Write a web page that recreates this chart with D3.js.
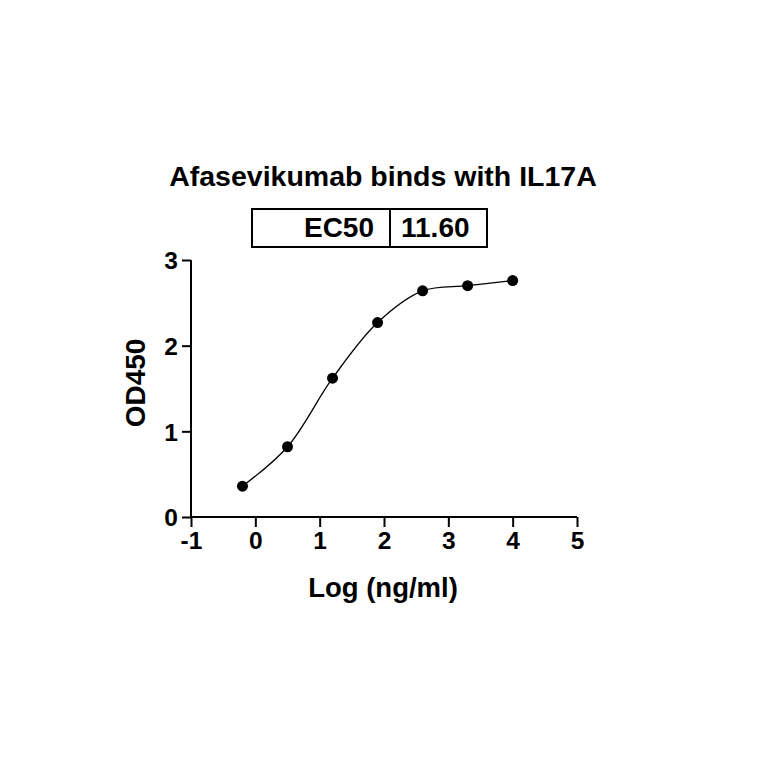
<!DOCTYPE html>
<html>
<head>
<meta charset="utf-8">
<script src="https://cdn.jsdelivr.net/npm/d3@7"></script>
<style>
  body { margin: 0; background: #fff; }
  text { font-family: "Liberation Sans", Arial, sans-serif; font-weight: bold; fill: #000; }
</style>
</head>
<body>
<div id="chart"></div>
<script>
// data
const logConc = [-0.2, 0.5, 1.2, 1.9, 2.6, 3.3, 4.0];
const od450 = [0.36, 0.82, 1.62, 2.27, 2.64, 2.70, 2.76];
const xTicks = [-1, 0, 1, 2, 3, 4, 5];
const yTicks = [0, 1, 2, 3];
const tableLabels = ["EC50", "11.60"];

const width = 764;
const height = 764;
const plotLeft = 191, plotRight = 577, plotTop = 260, plotBottom = 517;

const svg = d3.select("#chart").append("svg")
    .attr("width", width).attr("height", height);

const x = d3.scaleLinear().domain([-1, 5]).range([plotLeft, plotRight]);
const y = d3.scaleLinear().domain([0, 3]).range([plotBottom, plotTop]);

const data = logConc.map((d, i) => ({x: d, y: od450[i]}));

// axes (hyphen minus like the original, not d3's unicode minus)
const xAxis = d3.axisBottom(x).tickValues(xTicks).tickSize(10).tickPadding(5).tickFormat(d => String(d));
const yAxis = d3.axisLeft(y).tickValues(yTicks).tickSize(9).tickPadding(4).tickFormat(d => String(d));

const gx = svg.append("g").attr("transform", `translate(0,${plotBottom})`).call(xAxis);
const gy = svg.append("g").attr("transform", `translate(${plotLeft},0)`).call(yAxis);

[gx, gy].forEach(g => {
    g.select(".domain").attr("stroke-width", 2).attr("stroke", "#000");
    g.selectAll(".tick line").attr("stroke-width", 2).attr("stroke", "#000");
    g.selectAll(".tick text").style("font-size", "24.5px").attr("font-family", null);
});
// plain axis lines, no outer ticks
gx.select(".domain").attr("d", `M${plotLeft},0H${plotRight}`);
gy.select(".domain").attr("d", `M0,${plotTop}V${plotBottom}`);
gy.selectAll(".tick text").attr("dy", "0.36em");

// curve through the points
const line = d3.line().x(d => x(d.x)).y(d => y(d.y)).curve(d3.curveCatmullRom.alpha(0.5));
svg.append("path").datum(data)
    .attr("d", line)
    .attr("fill", "none")
    .attr("stroke", "#000")
    .attr("stroke-width", 1.3);

svg.selectAll("circle.pt").data(data).enter()
    .append("circle")
    .attr("class", "pt")
    .attr("cx", d => x(d.x))
    .attr("cy", d => y(d.y))
    .attr("r", 5.5)
    .attr("fill", "#000");

// title
svg.append("text")
    .attr("x", 383).attr("y", 186)
    .attr("text-anchor", "middle")
    .style("font-size", "28.5px")
    .text("Afasevikumab binds with IL17A");

// EC50 table
const box = svg.append("g");
box.append("rect")
    .attr("x", 252).attr("y", 209).attr("width", 235).attr("height", 38)
    .attr("fill", "none").attr("stroke", "#000").attr("stroke-width", 2);
box.append("line")
    .attr("x1", 390).attr("x2", 390).attr("y1", 209).attr("y2", 247)
    .attr("stroke", "#000").attr("stroke-width", 2);
box.append("text")
    .attr("x", 374).attr("y", 237)
    .attr("text-anchor", "end")
    .style("font-size", "28px")
    .text(tableLabels[0]);
box.append("text")
    .attr("x", 401).attr("y", 237)
    .style("font-size", "28px")
    .text(tableLabels[1]);

// axis labels
svg.append("text")
    .attr("x", 383).attr("y", 597)
    .attr("text-anchor", "middle")
    .style("font-size", "27.5px")
    .text("Log (ng/ml)");

svg.append("text")
    .attr("transform", "translate(145,383) rotate(-90)")
    .attr("text-anchor", "middle")
    .style("font-size", "28px")
    .text("OD450");
</script>
</body>
</html>
